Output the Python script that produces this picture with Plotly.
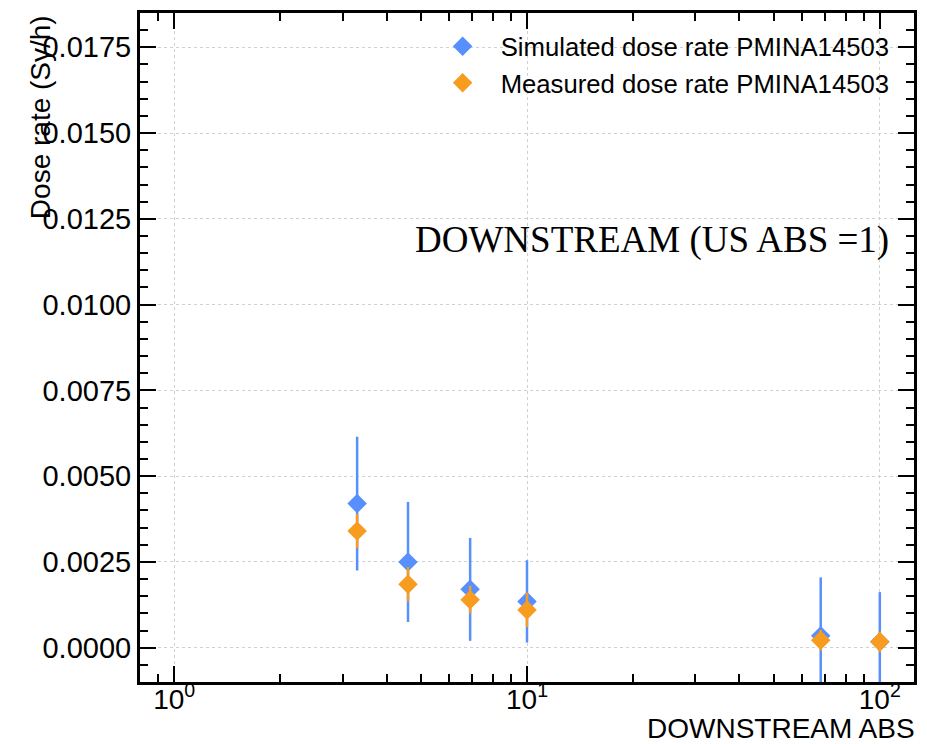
import numpy as np
import plotly.graph_objects as go

# Absorber setting on the downstream side (upstream absorber fixed at 1)
abs_setting = [3.3, 4.6, 6.9, 10, 68, 100]

# Dose rates in Sv/h at monitor PMINA14503
sim_rate = [0.0042, 0.0025, 0.0017, 0.00135, 0.00035, 0.00017]
sim_err = [0.00195, 0.00175, 0.0015, 0.0012, 0.0017, 0.00145]
meas_rate = [0.0034, 0.00185, 0.0014, 0.0011, 0.00022, 0.00017]
meas_err = [0.0005, 0.0005, 0.0004, 0.0005, 0.0003, 0.0003]

y_ticks = [0.0, 0.0025, 0.005, 0.0075, 0.01, 0.0125, 0.015, 0.0175]
x_ticks = [1, 10, 100]
x_tick_text = ["10<sup>0</sup>", "10<sup>1</sup>", "10<sup>2</sup>"]

BLUE = "#5790fc"
ORANGE = "#f89c20"
FONT = "Liberation Sans"

fig = go.Figure()
fig.add_trace(go.Scatter(
    x=abs_setting, y=sim_rate, mode="markers",
    name="Simulated dose rate PMINA14503",
    marker=dict(symbol="diamond", size=15, color=BLUE),
    error_y=dict(type="data", array=sim_err, color=BLUE, thickness=2.5, width=0),
))
fig.add_trace(go.Scatter(
    x=abs_setting, y=meas_rate, mode="markers",
    name="Measured dose rate PMINA14503",
    marker=dict(symbol="diamond", size=15, color=ORANGE),
    error_y=dict(type="data", array=meas_err, color=ORANGE, thickness=2.5, width=0),
))

axis_common = dict(
    showline=True, linecolor="black", linewidth=3, mirror="allticks",
    ticks="inside", ticklen=16, tickwidth=1.5, tickcolor="black",
    showgrid=True, gridcolor="#d0d0d0", griddash="dot", gridwidth=1,
    zeroline=False, layer="below traces",
)

fig.update_xaxes(
    type="log", range=[np.log10(0.8), np.log10(125)],
    tickvals=x_ticks, ticktext=x_tick_text,
    tickfont=dict(family=FONT, size=28, color="black"),
    ticklabelstandoff=-10,
    minor=dict(ticks="inside", ticklen=8, tickwidth=1.5, tickcolor="black",
               tickvals=[0.9, 2, 3, 4, 5, 6, 7, 8, 9, 20, 30, 40, 50, 60, 70, 80, 90],
               showgrid=False),
    **axis_common,
)
fig.update_yaxes(
    range=[-0.001, 0.0185],
    tickvals=y_ticks, tickformat=".4f",
    tickfont=dict(family=FONT, size=29, color="black"),
    minor=dict(ticks="inside", ticklen=8, tickwidth=1.5, tickcolor="black",
               dtick=0.0005, showgrid=False),
    **axis_common,
)

fig.add_annotation(
    text="Dose rate (Sy/h)", textangle=-90, showarrow=False,
    xref="paper", yref="paper", x=-0.129, y=1.0, xanchor="center", yanchor="top",
    font=dict(family=FONT, size=28, color="black"),
)
fig.add_annotation(
    text="DOWNSTREAM ABS", showarrow=False,
    xref="paper", yref="paper", x=1.004, y=-0.069, xanchor="right", yanchor="middle",
    font=dict(family=FONT, size=28, color="black"),
)
fig.add_annotation(
    text="DOWNSTREAM (US ABS =1)", showarrow=False,
    xref="paper", yref="paper", x=0.97, y=0.66, xanchor="right", yanchor="middle",
    font=dict(family="Liberation Serif", size=37, color="black"),
)

fig.update_layout(
    width=927, height=744,
    margin=dict(l=140, r=10, t=11, b=62),
    plot_bgcolor="white", paper_bgcolor="white",
    showlegend=True,
    legend=dict(
        x=0.975, y=0.985, xanchor="right", yanchor="top",
        bgcolor="rgba(0,0,0,0)",
        font=dict(family=FONT, size=25.7, color="black"),
        itemwidth=66,
        tracegroupgap=5,
    ),
)

fig.write_html("out.html")
